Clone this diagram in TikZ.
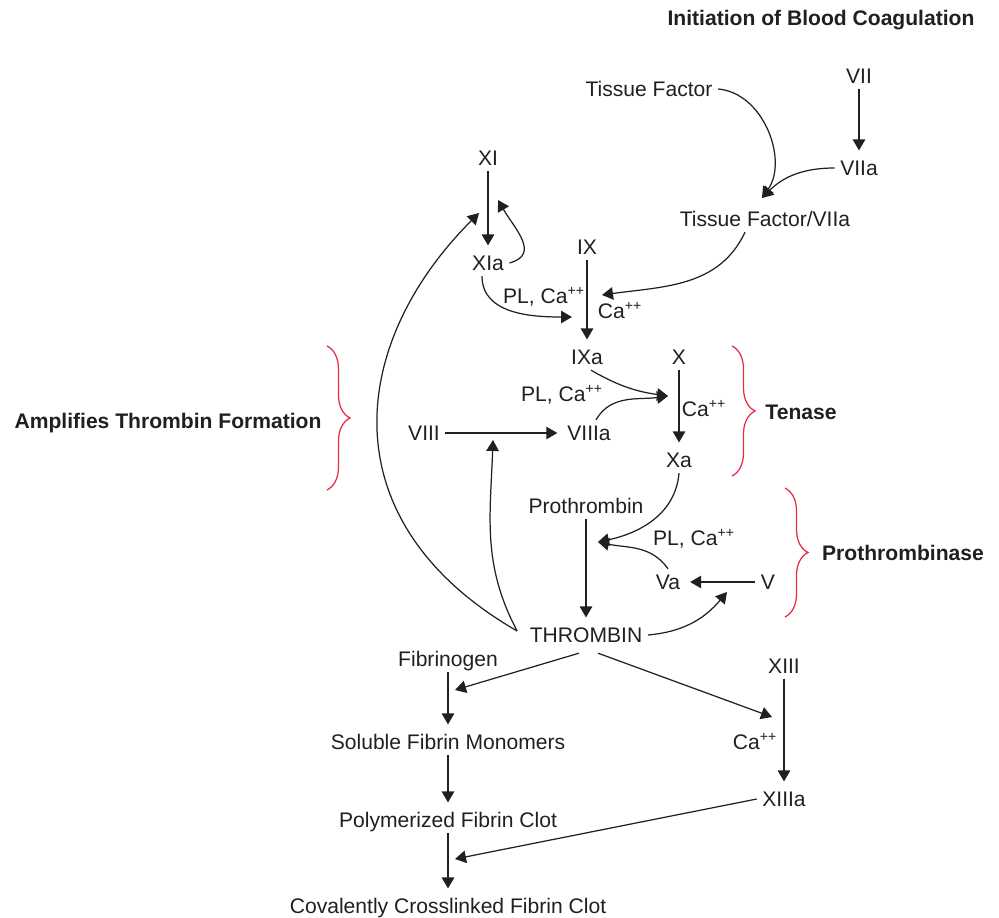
\documentclass[tikz,border=0pt]{standalone}
\usepackage{fontspec}
\setmainfont{Liberation Sans}
\usetikzlibrary{arrows.meta,decorations.pathreplacing}
\definecolor{inkgray}{RGB}{35,31,32}
\definecolor{bracered}{RGB}{232,40,70}

\begin{document}
\begin{tikzpicture}[
        % 全局設定:1 單位 = 圖上 1 像素
        x=0.02cm, y=-0.02cm,
        % 因子節點:無框,純文字
        factor/.style={
            inner sep=3pt,
            text height=8.6pt,
            text depth=0pt,
            font=\fontsize{12}{14}\selectfont,
            text=inkgray
        },
        % 分組標題:粗體
        group_label/.style={
            factor,
            font=\fontsize{12}{14}\selectfont\bfseries
        },
        % 反應箭頭
        react_arrow/.style={
            draw=inkgray,
            line width=0.7pt,
            -{Triangle[length=2.2mm,width=2.5mm]}
        },
        % 節點到節點的直線箭頭
        chain_arrow/.style={
            react_arrow,
            shorten >=2.5pt
        },
        % 紅色大括號
        brace_red/.style={
            draw=bracered,
            line width=0.7pt,
            decorate,
            decoration={brace, amplitude=0.46cm}
        }
    ]
        \useasboundingbox (0,0) rectangle (999,918);

        % ==========================
        % 上方:起始
        % ==========================
        \node[group_label] (title) at (821,18) {Initiation of Blood Coagulation};
        \node[factor] (tf) at (649,89) {Tissue Factor};
        \node[factor] (vii) at (859,76) {VII};
        \node[factor] (viia) at (859,168) {VIIa};
        \node[factor] (tfviia) at (765,219) {Tissue Factor/VIIa};

        % 1. 匯合點
        \coordinate (tfviia_in) at (762,198);
        \coordinate (ix_in) at (602,295);
        \coordinate (xia_in) at (572,317);
        \coordinate (xi_fb) at (498,200);

        % 2. 箭頭
        \draw[chain_arrow] (vii.south) -- (viia.north);
        \draw[react_arrow] (tf.east) to[out=-5,in=55] (tfviia_in);
        \draw[react_arrow] (viia.west) to[out=180,in=45] (tfviia_in);

        % ==========================
        % 內源途徑:XI, IX
        % ==========================
        \node[factor] (xi) at (488,158) {XI};
        \node[factor] (xia) at (488,263) {XIa};
        \node[factor] (ix) at (587,247) {IX};
        \node[factor] (plca1) at (544,296) {PL, Ca\textsuperscript{++}};
        \node[factor] (ca1) at (620,311) {Ca\textsuperscript{++}};
        \node[factor] (ixa) at (587,357) {IXa};

        \draw[chain_arrow] (xi.south) -- (xia.north);
        \draw[react_arrow] (xia.east) to[out=15,in=-60,looseness=1.3] (xi_fb);
        \draw[react_arrow] ([xshift=-0.12cm]xia.south) to[out=-90,in=180] (xia_in);
        \draw[chain_arrow] (ix.south) -- (ixa.north);
        \draw[react_arrow] ([xshift=-0.4cm]tfviia.south) to[out=-115,in=8] (ix_in);

        % ==========================
        % Tenase
        % ==========================
        \node[factor] (x) at (679,357) {X};
        \node[factor] (ca2) at (704,409) {Ca\textsuperscript{++}};
        \node[factor] (xa) at (679,460) {Xa};
        \node[factor] (plca2) at (562,394) {PL, Ca\textsuperscript{++}};
        \node[factor] (viii) at (424,433) {VIII};
        \node[factor] (viiia) at (589,433) {VIIIa};
        \node[group_label] (tenase) at (801,412) {Tenase};
        \node[group_label] (amplify) at (168,421) {Amplifies Thrombin Formation};

        \coordinate (x_in) at (668,396);
        \draw[react_arrow] ([xshift=0.08cm]ixa.south) to[out=-30,in=172] (x_in);
        \draw[react_arrow] ([xshift=0.14cm]viiia.north) to[out=60,in=188] (x_in);
        \draw[chain_arrow] (x.south) -- (xa.north);
        \draw[chain_arrow] (viii.east) -- (viiia.west);

        % ==========================
        % Prothrombinase
        % ==========================
        \node[factor] (prothrombin) at (586,506) {Prothrombin};
        \node[factor] (plca3) at (694,538) {PL, Ca\textsuperscript{++}};
        \node[factor] (va) at (668,582) {Va};
        \node[factor] (v) at (768,582) {V};
        \node[group_label] (prothrombinase) at (903,553) {Prothrombinase};
        \node[factor] (thrombin) at (586,635) {THROMBIN};

        \coordinate (pro_in) at (598,542);
        \coordinate (v_in) at (727,592);
        \coordinate (viii_in) at (493,440);
        \coordinate (xi_in) at (479,213);
        \draw[react_arrow] (xa.south) to[out=-95,in=12] (pro_in);
        \draw[react_arrow] (va.north) to[out=125,in=-12] (pro_in);
        \draw[chain_arrow] (prothrombin.south) -- (thrombin.north);
        \draw[chain_arrow] (v.west) -- (va.east);
        \draw[react_arrow] (thrombin.east) to[out=5,in=-130] (v_in);

        % 3. 凝血酶回饋
        \draw[react_arrow] ([xshift=-0.14cm,yshift=0.08cm]thrombin.west) to[out=118,in=-92] (viii_in);
        \draw[react_arrow] ([xshift=-0.14cm,yshift=0.08cm]thrombin.west)
            .. controls (328,522) and (348,344) .. (xi_in);

        % ==========================
        % 下方:纖維蛋白
        % ==========================
        \node[factor] (fibrinogen) at (448,659) {Fibrinogen};
        \node[factor] (xiii) at (784,666) {XIII};
        \node[factor] (soluble) at (448,742) {Soluble Fibrin Monomers};
        \node[factor] (ca3) at (755,742) {Ca\textsuperscript{++}};
        \node[factor] (xiiia) at (784,799) {XIIIa};
        \node[factor] (polymer) at (448,820) {Polymerized Fibrin Clot};
        \node[factor] (crosslink) at (448,906) {Covalently Crosslinked Fibrin Clot};

        \coordinate (fib_in) at (455,690);
        \coordinate (xiii_in) at (772,717);
        \coordinate (clot_in) at (455,859);
        \draw[react_arrow] ([xshift=-0.14cm,yshift=-0.1cm]thrombin.south) -- (fib_in);
        \draw[react_arrow] ([xshift=0.24cm,yshift=-0.1cm]thrombin.south) -- (xiii_in);
        \draw[chain_arrow] (fibrinogen.south) -- (soluble.north);
        \draw[chain_arrow] (soluble.south) -- (polymer.north);
        \draw[chain_arrow] (polymer.south) -- (crosslink.north);
        \draw[chain_arrow] (xiii.south) -- (xiiia.north);
        \draw[react_arrow] (xiiia.west) -- (clot_in);

        % ==========================
        % 紅色大括號
        % ==========================
        \draw[brace_red] (327,346) -- (327,490);
        \draw[brace_red] (732,346) -- (732,476);
        \draw[brace_red] (785,488) -- (785,617);

    \end{tikzpicture}
\end{document}
